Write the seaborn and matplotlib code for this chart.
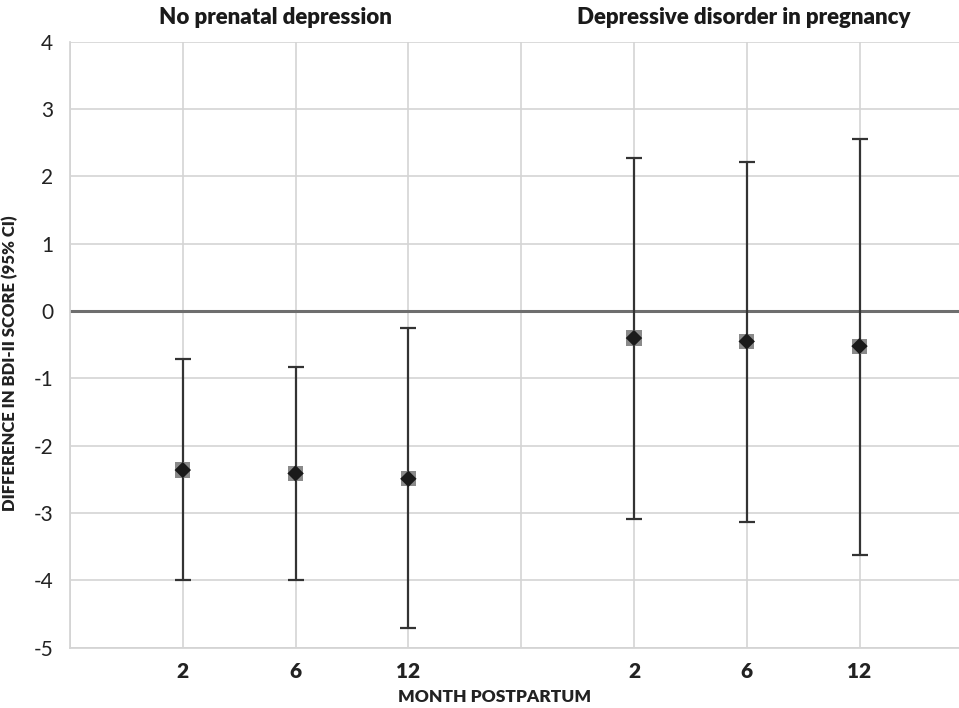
import numpy as np
import pandas as pd
import matplotlib
matplotlib.use("Agg")
import matplotlib.pyplot as plt
import seaborn as sns

# values
groups = ["No prenatal depression", "Depressive disorder in pregnancy"]
months = ["2", "6", "12"]
positions = [1, 2, 3, 5, 6, 7]
group_of_point = [0, 0, 0, 1, 1, 1]
estimate = [-2.36, -2.41, -2.49, -0.40, -0.45, -0.52]
ci_low = [-3.99, -3.99, -4.70, -3.08, -3.13, -3.62]
ci_high = [-0.71, -0.83, -0.25, 2.28, 2.22, 2.55]

df = pd.DataFrame({
    "pos": positions,
    "group": [groups[g] for g in group_of_point],
    "month": months * 2,
    "est": estimate,
    "lo": ci_low,
    "hi": ci_high,
})

sns.set_theme(style="whitegrid")
plt.rcParams["font.family"] = ["Lato", "DejaVu Sans"]

fig = plt.figure(figsize=(9.59, 7.08), dpi=100)
ax = fig.add_axes([0.073, 0.085, 0.935, 0.856])

# confidence intervals
ax.errorbar(df["pos"], df["est"],
            yerr=[df["est"] - df["lo"], df["hi"] - df["est"]],
            fmt="none", ecolor="#333333", elinewidth=1.6,
            capsize=6, capthick=1.6, zorder=3)

# point estimates: grey square shadow under a black diamond
sns.scatterplot(data=df, x="pos", y="est", marker="s", s=120,
                color="#8a8a8a", edgecolor="none", ax=ax, zorder=4)
sns.scatterplot(data=df, x="pos", y="est", marker="D", s=70,
                color="#1a1a1a", edgecolor="none", ax=ax, zorder=5)

ax.axhline(0, color="#6e6e6e", lw=2.2, zorder=2)

ax.set_xlim(0, 7.95)
ax.set_ylim(-5, 4)
ax.set_xticks(range(0, 8))
ax.set_xticklabels(["", "2", "6", "12", "", "2", "6", "12"],
                   fontsize=15, fontweight="heavy", color="#222222")
ax.set_yticks(range(-5, 5))
ax.set_yticklabels([str(v) for v in range(-5, 5)], fontsize=15, color="#222222")
ax.tick_params(axis="x", pad=10, length=0)
ax.tick_params(axis="y", pad=12, length=0)

ax.grid(True, color="#d4d4d4", lw=1.2)
for side in ["top", "right"]:
    ax.spines[side].set_visible(False)
ax.spines["left"].set_color("#d4d4d4")
ax.spines["bottom"].set_color("#d4d4d4")

ax.set_xlabel("MONTH POSTPARTUM", fontsize=12.5, fontweight="heavy",
              color="#222222")
ax.xaxis.set_label_coords(0.474, -0.068)
ax.set_ylabel("DIFFERENCE IN BDI-II SCORE (95% CI)", fontsize=12,
              fontweight="heavy", color="#222222")
ax.yaxis.set_label_coords(-0.058, 0.47)

# group headers
ax.text(1.82, 4.2, groups[0], ha="center", va="bottom", fontsize=16,
        fontweight="heavy", color="#1a1a1a")
ax.text(5.97, 4.2, groups[1], ha="center", va="bottom", fontsize=16,
        fontweight="heavy", color="#1a1a1a")

fig.savefig("out.png", dpi=100)
